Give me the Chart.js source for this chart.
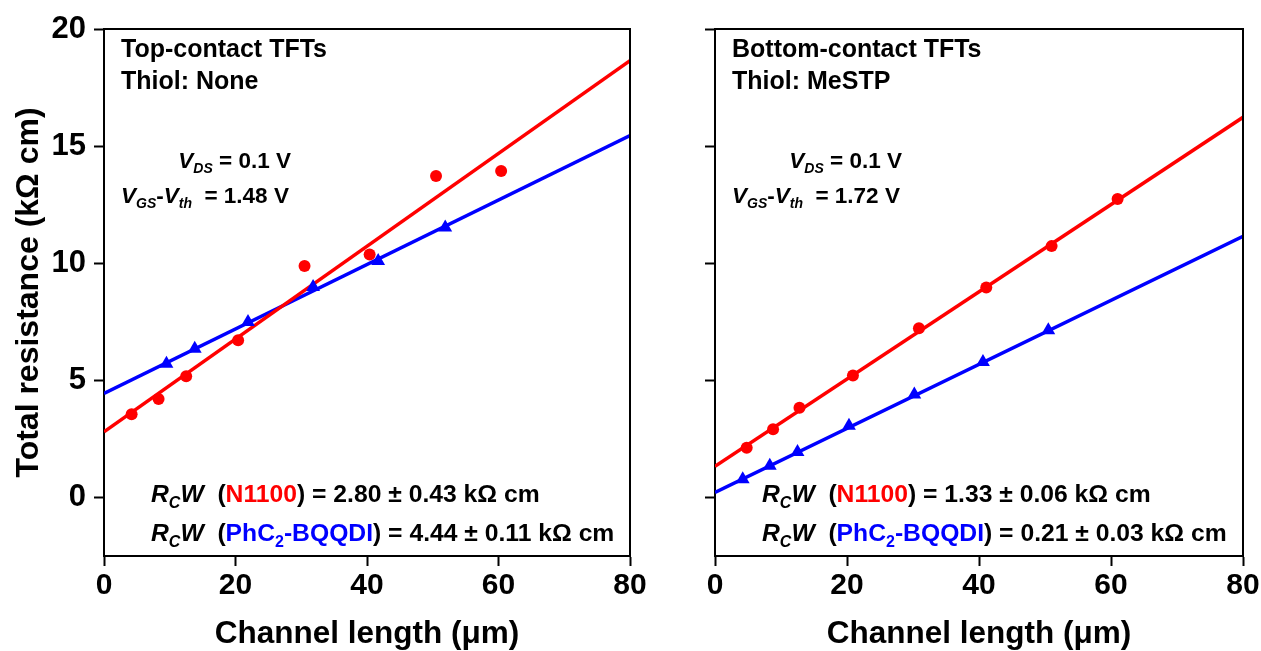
<!DOCTYPE html>
<html>
<head>
<meta charset="utf-8">
<script src="https://cdn.jsdelivr.net/npm/chart.js@4.4.0/dist/chart.umd.min.js"></script>
<style>
html, body { margin: 0; padding: 0; background: #fff; }
#wrap { position: relative; width: 1261px; height: 651px; overflow: hidden; }
#c1 { position: absolute; left: 0; top: 0; }
#c2 { position: absolute; left: 640px; top: 0; }
</style>
</head>
<body>
<div id="wrap">
  <canvas id="c1" width="680" height="651"></canvas>
  <canvas id="c2" width="621" height="651"></canvas>
</div>
<script>
// ticks
var xTicks = [0, 20, 40, 60, 80];
var yTicks = [0, 5, 10, 15, 20];
var fitX = [0, 80];

// top-contact TFTs, thiol none
var topRedX = [4.2, 8.3, 12.5, 20.4, 30.5, 40.4, 50.5, 60.4];
var topRedY = [3.55, 4.2, 5.17, 6.71, 9.88, 10.37, 13.72, 13.94];
var topBlueX = [9.5, 13.8, 21.9, 31.8, 41.7, 51.9];
var topBlueY = [5.71, 6.35, 7.49, 8.99, 10.1, 11.52];
var topRedFit = [2.80, 18.65];
var topBlueFit = [4.44, 15.45];

// bottom-contact TFTs, thiol MeSTP
var botRedX = [4.8, 8.8, 12.8, 20.9, 30.9, 41.1, 51.0, 61.0];
var botRedY = [2.12, 2.91, 3.83, 5.21, 7.22, 8.96, 10.73, 12.74];
var botBlueX = [4.2, 8.3, 12.5, 20.3, 30.2, 40.6, 50.5];
var botBlueY = [0.78, 1.35, 1.94, 3.06, 4.40, 5.78, 7.14];
var botRedFit = [1.33, 16.23];
var botBlueFit = [0.21, 11.15];

// texts
var topHeader = ['Top-contact TFTs', 'Thiol: None'];
var botHeader = ['Bottom-contact TFTs', 'Thiol: MeSTP'];
var topVgs = '1.48 V';
var botVgs = '1.72 V';
var topRc = ['2.80 ± 0.43', '4.44 ± 0.11'];
var botRc = ['1.33 ± 0.06', '0.21 ± 0.03'];

var RED = '#ff0000';
var BLUE = '#0000ff';
var FAM = 'Arial, "Liberation Sans", Helvetica, sans-serif';

function pts(xs, ys) {
  var out = [];
  for (let i = 0; i < xs.length; i++) out.push({x: xs[i], y: ys[i]});
  return out;
}

function segFont(s, size) {
  return (s.i ? 'italic ' : '') + 'bold ' + (s.sub ? Math.round(size * 0.64) : size) + 'px ' + FAM;
}

function drawRich(ctx, x, y, segs, size, align) {
  var total = 0;
  segs.forEach(function (s) { ctx.font = segFont(s, size); total += ctx.measureText(s.t).width; });
  var cx = align === 'right' ? x - total : x;
  ctx.textBaseline = 'alphabetic';
  ctx.textAlign = 'left';
  segs.forEach(function (s) {
    ctx.font = segFont(s, size);
    ctx.fillStyle = s.c || '#000';
    ctx.fillText(s.t, cx, y + (s.sub ? Math.round(size * 0.24) : 0));
    cx += ctx.measureText(s.t).width;
  });
}

// frame + annotations
var notesPlugin = {
  id: 'notes',
  afterDraw: function (chart, args, o) {
    var ctx = chart.ctx, a = chart.chartArea;
    ctx.save();
    ctx.strokeStyle = '#000';
    ctx.lineWidth = 2;
    ctx.beginPath();
    ctx.moveTo(a.left, a.top);
    ctx.lineTo(a.right, a.top);
    ctx.lineTo(a.right, a.bottom);
    ctx.stroke();

    var L = a.left, T = a.top;
    drawRich(ctx, L + 17, T + 28, [{t: o.header[0]}], 25);
    drawRich(ctx, L + 17, T + 60, [{t: o.header[1]}], 25);
    drawRich(ctx, L + 187, T + 139, [{t: 'V', i: 1}, {t: 'DS', i: 1, sub: 1}, {t: ' = 0.1 V'}], 22.5, 'right');
    drawRich(ctx, L + 17, T + 174, [{t: 'V', i: 1}, {t: 'GS', i: 1, sub: 1}, {t: '-'}, {t: 'V', i: 1},
      {t: 'th', i: 1, sub: 1}, {t: '  = ' + o.vgs}], 22.5);
    drawRich(ctx, L + 47, T + 473, [{t: 'R', i: 1}, {t: 'C', i: 1, sub: 1}, {t: 'W', i: 1}, {t: '  ('},
      {t: 'N1100', c: RED}, {t: ') = ' + o.rc[0] + ' kΩ cm'}], 24.7);
    drawRich(ctx, L + 47, T + 512, [{t: 'R', i: 1}, {t: 'C', i: 1, sub: 1}, {t: 'W', i: 1}, {t: '  ('},
      {t: 'PhC', c: BLUE}, {t: '2', c: BLUE, sub: 1}, {t: '-BQQDI', c: BLUE}, {t: ') = ' + o.rc[1] + ' kΩ cm'}], 24.7);
    ctx.restore();
  }
};

function makeChart(id, isLeft, rx, ry, bx, by, rFit, bFit, header, vgs, rc) {
  var ctx = document.getElementById(id).getContext('2d');
  return new Chart(ctx, {
    type: 'scatter',
    data: {
      datasets: [
        {data: pts(rx, ry), backgroundColor: RED, borderColor: RED, pointStyle: 'circle', pointRadius: 6, borderWidth: 0},
        {data: pts(bx, by), backgroundColor: BLUE, borderColor: BLUE, pointStyle: 'triangle', pointRadius: 8, borderWidth: 0},
        {data: pts(fitX, rFit), showLine: true, borderColor: RED, borderWidth: 3.5, pointRadius: 0},
        {data: pts(fitX, bFit), showLine: true, borderColor: BLUE, borderWidth: 3.5, pointRadius: 0}
      ]
    },
    options: {
      responsive: false,
      animation: false,
      layout: {padding: {top: 29, right: isLeft ? 50 : 18, left: 0, bottom: 0}},
      plugins: {
        legend: {display: false},
        tooltip: {enabled: false},
        notes: {header: header, vgs: vgs, rc: rc}
      },
      scales: {
        x: {
          type: 'linear', min: 0, max: 80,
          afterBuildTicks: function (s) { s.ticks = xTicks.map(function (v) { return {value: v}; }); },
          afterFit: function (s) { s.height = 95; s.paddingLeft = 0; s.paddingRight = 0; },
          grid: {drawOnChartArea: false, drawTicks: true, tickLength: 10, tickWidth: 2, tickColor: '#000'},
          border: {display: true, color: '#000', width: 2},
          ticks: {color: '#000', padding: 2, maxRotation: 0, font: {family: FAM, size: 30, weight: 'bold'}},
          title: {display: true, text: 'Channel length (μm)', color: '#000', padding: {top: 0, bottom: -2},
                  font: {family: FAM, size: 31.5, weight: 'bold'}}
        },
        y: {
          min: -2.5, max: 20,
          afterBuildTicks: function (s) { s.ticks = yTicks.map(function (v) { return {value: v}; }); },
          afterFit: function (s) { s.width = isLeft ? 104 : 75; s.paddingTop = 0; s.paddingBottom = 0; },
          grid: {drawOnChartArea: false, drawTicks: true, tickLength: 10, tickWidth: 2, tickColor: '#000'},
          border: {display: true, color: '#000', width: 2},
          ticks: {display: isLeft, color: '#000', padding: 8, font: {family: FAM, size: 31, weight: 'bold'}},
          title: {display: isLeft, text: 'Total resistance (kΩ cm)', color: '#000', padding: {top: 10, bottom: 0},
                  font: {family: FAM, size: 32, weight: 'bold'}}
        }
      }
    },
    plugins: [notesPlugin]
  });
}

makeChart('c1', true, topRedX, topRedY, topBlueX, topBlueY, topRedFit, topBlueFit, topHeader, topVgs, topRc);
makeChart('c2', false, botRedX, botRedY, botBlueX, botBlueY, botRedFit, botBlueFit, botHeader, botVgs, botRc);
</script>
</body>
</html>
